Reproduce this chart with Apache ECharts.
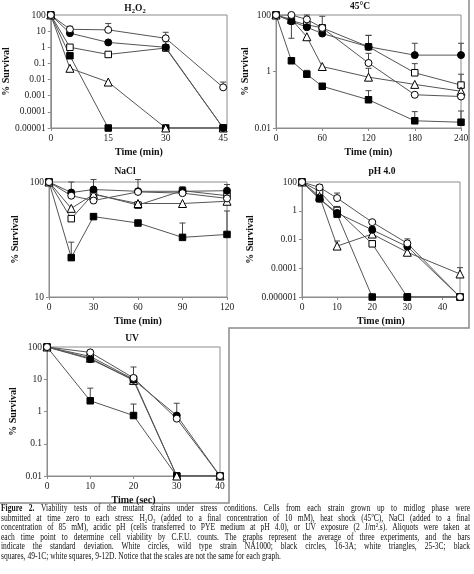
<!DOCTYPE html>
<html><head><meta charset="utf-8">
<script src="https://cdn.jsdelivr.net/npm/echarts@6/dist/echarts.min.js"></script>
<style>html,body{margin:0;padding:0;background:#fff}#chart{width:474px;height:574px}</style>
</head><body><div id="chart"></div>
<script>
// ---------- DATA ----------
// H2O2 panel
const h2o2Time = [0, 5, 15, 30, 45];
const h2o2WhiteCircle = [100, 13, 12, 3.6, 0.0033];
const h2o2BlackCircle = [100, 7.5, 2.0, 1.0, 0.00001];
const h2o2WhiteTriangle = [100, 0.05, 0.007, 0.00001, 0.00001];
const h2o2BlackSquare = [100, 0.3, 0.00001, 0.00001, 0.00001];
const h2o2WhiteSquare = [100, 1.0, 0.36, 0.9, 0.00001];
const h2o2WhiteCircleErr = [null, 20, 30, 8.5, 0.007];
const h2o2WhiteSquareErr = [null, null, null, 2.2, null];

// 45°C panel
const heatTime = [0, 20, 40, 60, 120, 180, 240];
const heatWhiteCircle = [100, 100, 70, 35, 2.0, 0.15, 0.13];
const heatBlackCircle = [100, 60, 37, 22, 7.5, 3.8, 3.8];
const heatWhiteTriangle = [100, 70, 17, 1.5, 0.63, 0.35, 0.2];
const heatBlackSquare = [100, 2.4, 0.8, 0.3, 0.1, 0.018, 0.016];
const heatWhiteSquare = [100, 63, 45, 35, 7.5, 0.9, 0.33];
const heatWhiteCircleErr = [null, null, 100, null, 4.4, null, null];
const heatBlackCircleErr = [null, null, null, null, 19, 10, 10];
const heatWhiteTriangleErr = [null, null, null, null, 1.3, null, null];
const heatBlackSquareErr = [null, null, 1.1, null, 0.21, 0.038, 0.04];
const heatWhiteSquareErr = [null, 15, null, 90, 19, 1.9, 0.8];

// NaCl panel
const naclTime = [0, 15, 30, 60, 90, 120];
const naclWhiteCircle = [100, 76, 69, 82, 80, 72];
const naclBlackCircle = [100, 81, 86, 83, 83, 84];
const naclWhiteTriangle = [100, 59, 78, 65, 65, 68];
const naclBlackSquare = [100, 22, 50, 44, 33, 35];
const naclWhiteSquare = [100, 48, 79, 63, 84, 76];
const naclBlackCircleErr = [null, 100, 105, 105, 91, 95];
const naclBlackSquareErr = [null, 30, 53, null, 44, 56];

// pH 4.0 panel
const phTime = [0, 5, 10, 20, 30, 45];
const phWhiteCircle = [100, 42, 7.6, 0.16, 0.0054, 0.000001];
const phBlackCircle = [100, 7, 0.7, 0.047, 0.0032, 0.000001];
const phWhiteTriangle = [100, 10, 0.0035, 0.024, 0.0013, 0.00004];
const phBlackSquare = [100, 6.8, 0.58, 0.000001, 0.000001, 0.000001];
const phWhiteSquare = [100, 22, 1.05, 0.005, 0.000001, 0.000001];
const phWhiteCircleErr = [null, 64, 17, 0.03, 0.011, null];
const phBlackCircleErr = [null, null, null, 0.08, null, null];
const phWhiteTriangleErr = [null, null, 0.0079, null, null, 0.00011];
const phWhiteSquareErr = [null, null, 2, 0.008, null, null];

// UV panel
const uvTime = [0, 10, 20, 30, 40];
const uvWhiteCircle = [100, 68, 11, 0.6, 0.01];
const uvBlackCircle = [100, 42, 9.6, 0.75, 0.01];
const uvWhiteTriangle = [100, 45, 9.2, 0.01, 0.01];
const uvBlackSquare = [100, 2.15, 0.75, 0.01, 0.01];
const uvWhiteSquare = [100, 51, 10, 0.01, 0.01];
const uvWhiteCircleErr = [null, null, 24, null, null];
const uvBlackCircleErr = [null, null, null, 1.8, null];
const uvBlackSquareErr = [null, 5.3, 1.7, null, null];

// Caption
const captionLines = [
  "Figure 2. Viability tests of the mutant strains under stress conditions. Cells from each strain grown up to midlog phase were",
  "submitted at time zero to each stress: H\u2082O\u2082 (added to a final concentration of 10 mM), heat shock (45ºC), NaCl (added to a final",
  "concentration of 85 mM), acidic pH (cells transferred to PYE medium at pH 4.0), or UV exposure (2 J/m\u00B2.s). Aliquots were taken at",
  "each time point to determine cell viability by C.F.U. counts. The graphs represent the average of three experiments, and the bars",
  "indicate the standard deviation. White circles, wild type strain NA1000; black circles, 16-3A; white triangles, 25-3C; black",
  "squares, 49-1C; white squares, 9-12D. Notice that the scales are not the same for each graph."
];

// ---------- STYLE / LAYOUT ----------
const FONT = '"Liberation Serif", "Times New Roman", serif';
const markers = {
  WS: { symbol: 'rect', fill: '#fff', size: 6.5 },
  BS: { symbol: 'rect', fill: '#000', size: 6.5 },
  WT: { symbol: 'triangle', fill: '#fff', size: 8 },
  BC: { symbol: 'circle', fill: '#000', size: 7 },
  WC: { symbol: 'circle', fill: '#fff', size: 7 }
};

const panels = [
  { title: '{b|H}{s|2}{b|O}{s|2}', tx: 135, ty: 3,
    grid: { left: 48, top: 15, width: 179, height: 113 },
    xMax: 46, xInt: 15, yMin: 0.00001, yMax: 100, yInt: 1, xName: 'Time (min)', yGap: 39,
    time: h2o2Time,
    series: [['WS', h2o2WhiteSquare, h2o2WhiteSquareErr], ['BS', h2o2BlackSquare, null], ['WT', h2o2WhiteTriangle, null], ['BC', h2o2BlackCircle, null], ['WC', h2o2WhiteCircle, h2o2WhiteCircleErr]] },
  { title: '{b|45°C}', tx: 360, ty: 2,
    grid: { left: 276, top: 15, width: 185, height: 113 },
    xMax: 240, xInt: 60, yMin: 0.01, yMax: 100, yInt: 2, xName: 'Time (min)', yGap: 21,
    time: heatTime,
    series: [['WS', heatWhiteSquare, heatWhiteSquareErr], ['BS', heatBlackSquare, heatBlackSquareErr], ['WT', heatWhiteTriangle, heatWhiteTriangleErr], ['BC', heatBlackCircle, heatBlackCircleErr], ['WC', heatWhiteCircle, heatWhiteCircleErr]] },
  { title: '{b|NaCl}', tx: 125, ty: 167,
    grid: { left: 49, top: 182, width: 178, height: 115 },
    xMax: 120, xInt: 30, yMin: 10, yMax: 100, yInt: 1, xName: 'Time (min)', yGap: 29,
    time: naclTime,
    series: [['WS', naclWhiteSquare, null], ['BS', naclBlackSquare, naclBlackSquareErr], ['WT', naclWhiteTriangle, null], ['BC', naclBlackCircle, naclBlackCircleErr], ['WC', naclWhiteCircle, null]] },
  { title: '{b|pH 4.0}', tx: 382, ty: 167,
    grid: { left: 302, top: 182, width: 158, height: 115 },
    xMax: 45, xInt: 10, yMin: 0.000001, yMax: 100, yInt: 2, xName: 'Time (min)', yGap: 47,
    time: phTime,
    series: [['WS', phWhiteSquare, phWhiteSquareErr], ['BS', phBlackSquare, null], ['WT', phWhiteTriangle, phWhiteTriangleErr], ['BC', phBlackCircle, phBlackCircleErr], ['WC', phWhiteCircle, phWhiteCircleErr]] },
  { title: '{b|UV}', tx: 132, ty: 334,
    grid: { left: 47, top: 347, width: 173, height: 129 },
    xMax: 40, xInt: 10, yMin: 0.01, yMax: 100, yInt: 1, xName: 'Time (sec)', yGap: 29,
    time: uvTime,
    series: [['WS', uvWhiteSquare, null], ['BS', uvBlackSquare, uvBlackSquareErr], ['WT', uvWhiteTriangle, null], ['BC', uvBlackCircle, uvBlackCircleErr], ['WC', uvWhiteCircle, uvWhiteCircleErr]] }
];

function fmtLog(v) {
  if (v >= 1) return String(Math.round(v));
  const d = Math.round(-Math.log10(v));
  return v.toFixed(d);
}

const grids = [], xAxes = [], yAxes = [], series = [], titles = [];
panels.forEach((p, i) => {
  grids.push(Object.assign({ show: true, borderColor: '#8c8c8c', borderWidth: 1, backgroundColor: 'transparent' }, p.grid));
  titles.push({ text: p.title, left: p.tx, top: p.ty, textAlign: 'center', padding: 0,
    textStyle: { rich: {
      b: { fontFamily: FONT, fontWeight: 'bold', fontSize: 9.5, color: '#111' },
      s: { fontFamily: FONT, fontWeight: 'bold', fontSize: 6.5, color: '#111', padding: [5, 0, 0, 0] } } } });
  xAxes.push({ gridIndex: i, type: 'value', min: 0, max: p.xMax, interval: p.xInt,
    name: p.xName, nameLocation: 'middle', nameGap: 19,
    nameTextStyle: { fontFamily: FONT, fontWeight: 'bold', fontSize: 10, color: '#111' },
    axisLine: { lineStyle: { color: '#8c8c8c' } },
    axisTick: { show: true, inside: false, length: 3, lineStyle: { color: '#8c8c8c' } },
    axisLabel: { fontFamily: FONT, fontSize: 9.5, color: '#222', margin: 5, showMaxLabel: p.xMax % p.xInt === 0 },
    splitLine: { show: false } });
  yAxes.push({ gridIndex: i, type: 'log', logBase: 10, min: p.yMin, max: p.yMax, interval: p.yInt,
    name: '% Survival', nameLocation: 'middle', nameGap: p.yGap,
    nameTextStyle: { fontFamily: FONT, fontWeight: 'bold', fontSize: 10, color: '#111' },
    axisLine: { show: true, lineStyle: { color: '#8c8c8c' } },
    axisTick: { show: true, inside: false, length: 3, lineStyle: { color: '#8c8c8c' } },
    axisLabel: { fontFamily: FONT, fontSize: 9.5, color: '#222', margin: 5, formatter: fmtLog },
    splitLine: { show: false }, minorTick: { show: false } });

  p.series.forEach(([kind, vals, err]) => {
    const m = markers[kind];
    if (err) {
      const ed = [];
      err.forEach((e, j) => { if (e != null) ed.push([p.time[j], vals[j], e]); });
      series.push({ type: 'custom', xAxisIndex: i, yAxisIndex: i, z: 1, silent: true,
        encode: { x: 0, y: [1, 2] }, data: ed,
        renderItem: (params, api) => {
          const a = api.coord([api.value(0), api.value(1)]);
          const b = api.coord([api.value(0), api.value(2)]);
          return { type: 'group', children: [
            { type: 'line', shape: { x1: a[0], y1: a[1], x2: b[0], y2: b[1] }, style: { stroke: '#444', lineWidth: 1 } },
            { type: 'line', shape: { x1: b[0] - 3, y1: b[1], x2: b[0] + 3, y2: b[1] }, style: { stroke: '#444', lineWidth: 1 } }
          ] };
        } });
    }
    series.push({ type: 'line', xAxisIndex: i, yAxisIndex: i, z: 2,
      data: p.time.map((t, j) => [t, vals[j]]),
      symbol: m.symbol, symbolSize: m.size, showSymbol: true, showAllSymbol: true,
      lineStyle: { color: '#555', width: 1 },
      itemStyle: { color: m.fill, borderColor: '#000', borderWidth: 1 },
      emphasis: { disabled: true } });
  });
});

// Caption (justified; horizontal stretch derived from the last line's measured width)
const ctx = document.createElement('canvas').getContext('2d');
const capSize = 10;
const capNormal = capSize + 'px ' + FONT;
const capBold = 'bold ' + capSize + 'px ' + FONT;
const capLeft = 1, capRight = 470, capLastRight = 281, capTop = 508.7, capStep = 9.5;
ctx.font = capNormal;
const lastNatural = ctx.measureText(captionLines[captionLines.length - 1]).width;
const capScale = (capLastRight - capLeft) / lastNatural;
const graphics = [{ type: 'polyline', silent: true,
  shape: { points: [[469, 0], [469, 328], [229, 328], [229, 503], [0, 503]] },
  style: { stroke: '#8a8a8a', lineWidth: 1.5, fill: null } }];
captionLines.forEach((line, li) => {
  const words = line.split(' ');
  const fonts = words.map((w, wi) => (li === 0 && wi < 2) ? capBold : capNormal);
  const widths = words.map((w, wi) => { ctx.font = fonts[wi]; return ctx.measureText(w).width * capScale; });
  ctx.font = capNormal;
  const spaceW = ctx.measureText(' ').width * capScale;
  const total = widths.reduce((a, b) => a + b, 0);
  const last = li === captionLines.length - 1;
  let gap = last ? spaceW : (capRight - capLeft - total) / (words.length - 1);
  let x = capLeft;
  words.forEach((w, wi) => {
    graphics.push({ type: 'text', silent: true, x: x, y: capTop + li * capStep, scaleX: capScale,
      style: { text: w, font: fonts[wi], fill: '#111', verticalAlign: 'middle', align: 'left' } });
    x += widths[wi] + gap;
  });
});

const chart = echarts.init(document.getElementById('chart'), null, { renderer: 'canvas' });
chart.setOption({
  animation: false,
  backgroundColor: '#fff',
  title: titles,
  grid: grids,
  xAxis: xAxes,
  yAxis: yAxes,
  series: series,
  graphic: graphics
});
</script></body></html>
